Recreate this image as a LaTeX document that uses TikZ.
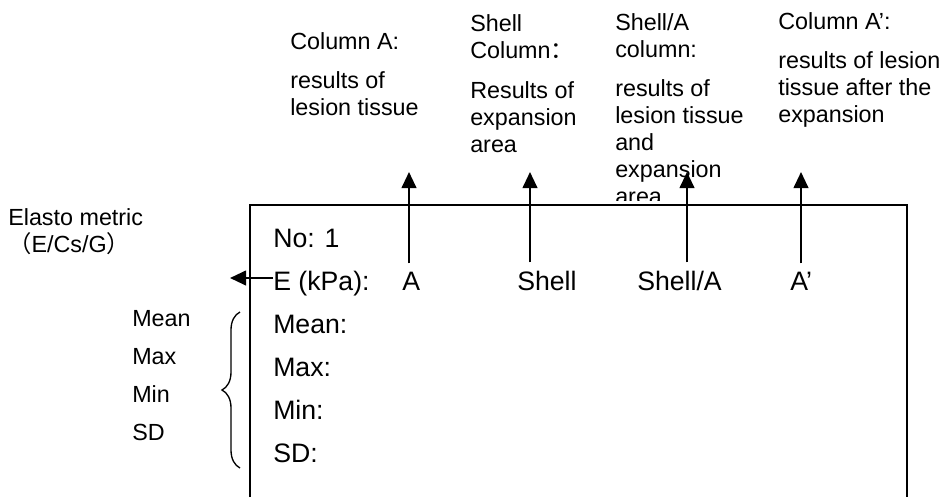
\documentclass[tikz,border=0pt]{standalone}
\usepackage{fontspec}
\setmainfont{Liberation Sans}
\newfontfamily\cjk{Noto Sans CJK SC}
\usetikzlibrary{arrows.meta,decorations.pathreplacing}

\tikzset{
  note/.style={font=\fontsize{17.5}{20.25}\selectfont, inner sep=0pt, align=left, anchor=base west},
  cell/.style={font=\fontsize{20}{24}\selectfont, inner sep=0pt, anchor=base west},
  pointer/.style={line width=1.5pt, -{Triangle[width=11pt,length=12pt]}},
}

\begin{document}
\begin{tikzpicture}[x=0.75pt, y=-0.75pt]
  \useasboundingbox (0,0) rectangle (945,497);
  % notes over the columns (base = last line)
  \node[note] (hA) at (290,49) {Column A:};
  \node[note] (bA) at (290,115) {results of\\lesion tissue};
  \node[note] (hS) at (470,58) {Shell\\Column{\cjk ：}};
  \node[note] (bS) at (470,152) {Results of\\expansion\\area};
  \node[note] (hSA) at (615,57) {Shell/A\\column:};
  \node[note] (bSA) at (615,204) {results of\\lesion tissue\\and\\expansion\\area};
  \node[note] (hAp) at (778,29) {Column A’:};
  \node[note] (bAp) at (778,122) {results of lesion\\tissue after the\\expansion};
  % notes on the left
  \node[note] (elasto) at (8,252) {Elasto metric\\{\cjk （}E/Cs/G{\cjk ）}};
  \foreach \t [count=\i] in {Mean, Max, Min, SD}
    \node[note] (s\i) at (132, 288+38*\i) {\t};
  \draw[line width=1pt, decorate, decoration={brace, amplitude=13.5pt}] (240,468) -- (240,312);
  % the box
  \fill[white] (250,201) rectangle (907,497);
  \draw[line width=1.5pt] (250,497) -- (250,205) -- (907,205) -- (907,497);
  \node[cell] (no) at (273,247) {No: 1};
  \node[cell] (e) at (273,290) {E (kPa):};
  \node[cell] (vA) at (402,290) {A};
  \node[cell] (vS) at (517,290) {Shell};
  \node[cell] (vSA) at (637,290) {Shell/A};
  \node[cell] (vAp) at (790,290) {A’};
  \foreach \t [count=\i] in {Mean:, Max:, Min:, SD:}
    \node[cell] (r\i) at (273, 290+43*\i) {\t};
  % arrows
  \coordinate (tA) at (409,172);
  \coordinate (tS) at (530,172);
  \coordinate (tSA) at (687,172);
  \coordinate (tAp) at (801,172);
  \coordinate (tE) at (230,278);
  \draw[pointer] ([yshift=6pt]vA.north -| tA) -- (tA);
  \draw[pointer] ([yshift=6pt]vS.north -| tS) -- (tS);
  \draw[pointer] ([yshift=6pt]vSA.north -| tSA) -- (tSA);
  \draw[pointer] ([yshift=6pt]vAp.north -| tAp) -- (tAp);
  \draw[pointer] (e.west |- tE) -- (tE);
\end{tikzpicture}
\end{document}
